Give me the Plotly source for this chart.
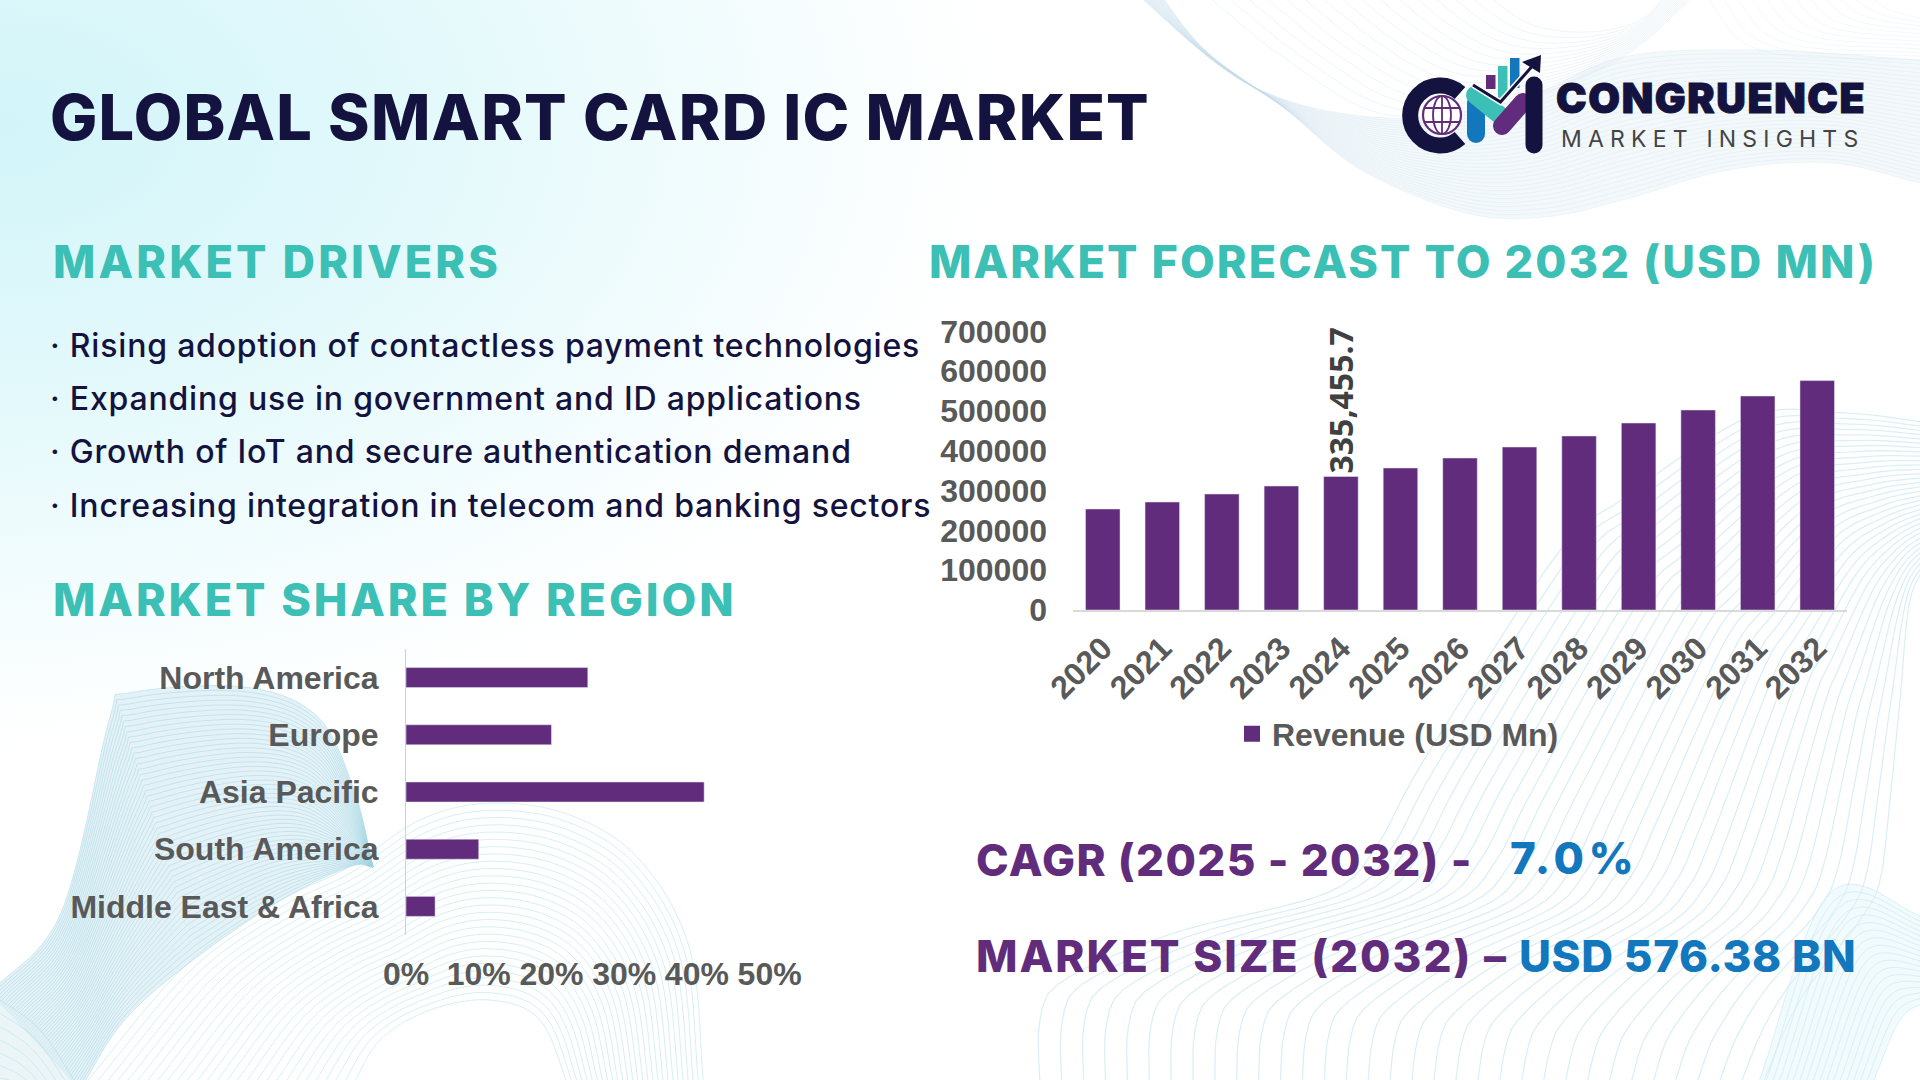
import base64

import numpy as np
import plotly.graph_objects as go

# chart values
years = ["2020", "2021", "2022", "2023", "2024", "2025", "2026",
         "2027", "2028", "2029", "2030", "2031", "2032"]
revenue = [253800, 271300, 291400, 311500, 335455.7, 356800, 381900,
           409500, 437200, 469800, 502500, 537700, 576380]
revenue_labels = ["", "", "", "", "335,455.7", "", "", "", "", "", "", "", ""]
revenue_ticks = [0, 100000, 200000, 300000, 400000, 500000, 600000, 700000]

regions = ["North America", "Europe", "Asia Pacific", "South America", "Middle East & Africa"]
shares = [25, 20, 41, 10, 4]
share_ticks = [0, 10, 20, 30, 40, 50]
share_tick_labels = ["0%", "10%", "20%", "30%", "40%", "50%"]

drivers = [
    "Rising adoption of contactless payment technologies",
    "Expanding use in government and ID applications",
    "Growth of IoT and secure authentication demand",
    "Increasing integration in telecom and banking sectors",
]

W, H = 1920, 1080
NAVY = "#14123E"
TEAL = "#3CBFB4"
PURPLE = "#612C7B"
BLUE = "#1277BC"
GREY = "#595959"
TICK_FONT = dict(family="Liberation Sans", size=32, color=GREY, weight=700)
HEAD_FONT = "Inter"


def smooth(pts, n=90):
    """Catmull-Rom through the key points, resampled to n points."""
    p = np.array(pts, dtype=float)
    p = np.vstack([2 * p[0] - p[1], p, 2 * p[-1] - p[-2]])
    out = []
    for i in range(1, len(p) - 2):
        t = np.linspace(0, 1, 12, endpoint=False)[:, None]
        out.append(0.5 * (2 * p[i] + (p[i + 1] - p[i - 1]) * t
                          + (2 * p[i - 1] - 5 * p[i] + 4 * p[i + 1] - p[i + 2]) * t ** 2
                          + (3 * p[i] - p[i - 1] - 3 * p[i + 1] + p[i + 2]) * t ** 3))
    out.append(p[-2][None, :])
    c = np.vstack(out)
    s = np.r_[0, np.cumsum(np.hypot(*np.diff(c, axis=0).T))]
    u = np.linspace(0, s[-1], n)
    return np.c_[np.interp(u, s, c[:, 0]), np.interp(u, s, c[:, 1])]


def path_d(c):
    return "M" + " L".join(f"{x:.1f} {y:.1f}" for x, y in c)


def ribbon(a, b, count, color, opacity, width=1.0, fill=None, fill_opacity=0):
    """Bundle of lines blended between two edge curves."""
    a, b = smooth(a), smooth(b)
    parts = []
    if fill:
        ring = np.vstack([a, b[::-1]])
        parts.append(f'<path d="{path_d(ring)}Z" fill="{fill}" fill-opacity="{fill_opacity}"/>')
    for t in np.linspace(0, 1, count):
        parts.append(f'<path d="{path_d(a * (1 - t) + b * t)}" fill="none" stroke="{color}" '
                     f'stroke-opacity="{opacity}" stroke-width="{width}"/>')
    return "".join(parts)


def background_svg():
    art = [f'<svg xmlns="http://www.w3.org/2000/svg" width="{W}" height="{H}" viewBox="0 0 {W} {H}">',
           '<defs><radialGradient id="g" gradientUnits="userSpaceOnUse" cx="0" cy="120" r="1000" '
           'gradientTransform="translate(0 50) scale(1 .62)">'
           '<stop offset="0" stop-color="#D2F5F9"/><stop offset=".45" stop-color="#E4F9FB"/>'
           '<stop offset=".8" stop-color="#F6FDFE"/><stop offset="1" stop-color="#FFFFFF"/>'
           '</radialGradient></defs>',
           f'<rect width="{W}" height="{H}" fill="#FFFFFF"/><rect width="{W}" height="{H}" fill="url(#g)"/>']

    # top right
    ridge = [(1120, -20), (1250, 85), (1388, 118), (1518, 100), (1623, 57), (1760, 50), (1920, 60)]
    lower = [(1150, -20), (1205, 50), (1283, 107), (1361, 170), (1466, 213), (1545, 217),
             (1623, 200), (1728, 170), (1832, 163), (1920, 183)]
    art.append(ribbon(ridge, lower, 30, "#C6DBE9", 0.22, 1, "#EFF5FA", 0.75))
    art.append(ribbon([(1200, -10), (1290, 62), (1388, 115), (1518, 100), (1623, 57), (1701, -10)],
                      [(1480, -10), (1530, 24), (1590, 32), (1640, 20), (1670, -10)],
                      16, "#CBDDEA", 0.3, 1))
    art.append(ribbon([(1701, -10), (1760, 50), (1920, 60)], [(1860, -10), (1890, 10), (1930, 20)],
                      12, "#CBDDEA", 0.22, 1))

    # bottom right
    outer = [(1040, 1090), (1040, 1020), (1064, 980), (1174, 933), (1327, 893), (1376, 847),
             (1424, 760), (1558, 553), (1621, 500), (1749, 417), (1845, 413), (1930, 423)]
    inner = [(1760, 1090), (1800, 1000), (1860, 920), (1880, 880), (1890, 800),
             (1900, 700), (1910, 600), (1930, 560)]
    art.append(ribbon(outer, inner, 34, "#BFE3EF", 0.6, 1.2))
    art.append(ribbon([(1756, 1090), (1830, 893), (1930, 920)], [(1870, 1090), (1900, 1020), (1930, 1000)],
                      18, "#BFE6F0", 0.5, 1, "#E4F5FA", 0.5))

    # bottom left
    r1 = [(-10, 993), (61, 913), (110, 717), (129, 693), (245, 687), (318, 717), (355, 793), (373, 867)]
    r2 = [(80, 1090), (122, 1023), (184, 967), (276, 903), (349, 867), (373, 867)]
    art.append(ribbon(r1, r2, 50, "#9CD2E0", 0.45, 1, "#D8EDF3", 0.7))
    art.append(ribbon([(80, 1090), (184, 967), (276, 903), (349, 867), (420, 820), (490, 803),
                       (570, 815), (640, 860), (690, 950), (704, 1090)],
                      [(350, 1090), (380, 1040), (430, 1010), (490, 1000), (540, 1020), (570, 1090)],
                      28, "#B5E2E9", 0.55, 1))
    art.append(ribbon([(-10, 993), (40, 1030), (80, 1090)], [(-10, 1090), (10, 1088), (20, 1090)],
                      8, "#A6D6E2", 0.4, 1, "#DDEFF4", 0.6))

    # logo mark
    art.append(
        f'<path d="M1460 93 A30 30 0 1 0 1460 138" fill="none" stroke="{NAVY}" stroke-width="16"/>'
        f'<circle cx="1442" cy="115" r="19" fill="#FFFFFF" stroke="{PURPLE}" stroke-width="2.2"/>'
        f'<ellipse cx="1442" cy="115" rx="9" ry="19" fill="none" stroke="{PURPLE}" stroke-width="1.8"/>'
        f'<path d="M1442 96 V134 M1424 108 H1460 M1424 122 H1460" stroke="{PURPLE}" stroke-width="1.8"/>'
        f'<path d="M1476 103 V134" stroke="{BLUE}" stroke-width="18" stroke-linecap="round"/>'
        f'<path d="M1475 95 L1502 117" stroke="{TEAL}" stroke-width="18" stroke-linecap="round"/>'
        f'<path d="M1502 126 L1523 102" stroke="{PURPLE}" stroke-width="18" stroke-linecap="round"/>'
        f'<path d="M1534 85 V145" stroke="{NAVY}" stroke-width="17" stroke-linecap="round"/>'
        f'<rect x="1486" y="75" width="9.5" height="14" fill="{PURPLE}"/>'
        f'<rect x="1498" y="66" width="9.5" height="32" fill="{TEAL}"/>'
        f'<rect x="1510" y="58" width="9.5" height="30" fill="{BLUE}"/>'
        f'<path d="M1473 85 L1500.5 102 L1531.5 67" fill="none" stroke="#FFFFFF" stroke-width="6"/>'
        f'<path d="M1473 85 L1500.5 102 L1531.5 67" fill="none" stroke="{NAVY}" stroke-width="3"/>'
        f'<path d="M1522 62 L1541 55 L1540 73 Z" fill="{NAVY}"/>'
    )
    art.append("</svg>")
    return "data:image/svg+xml;base64," + base64.b64encode("".join(art).encode()).decode()


def label(x, y, text, size, color, weight=700, family=HEAD_FONT, spacing=0, extra=""):
    if spacing or extra:
        text = f'<span style="letter-spacing:{spacing}px;{extra}">{text}</span>'
    return dict(xref="paper", yref="paper", x=x / W, y=1 - y / H, text=text, showarrow=False,
                xanchor="left", yanchor="middle", borderpad=0, borderwidth=0,
                font=dict(family=family, size=size, color=color, weight=weight))


notes = [
    label(50, 117, "GLOBAL SMART CARD IC MARKET", 63, NAVY, 800, spacing=1.2),
    label(53, 261, "MARKET DRIVERS", 45, TEAL, 800, spacing=3.1),
    label(929, 261, "MARKET FORECAST TO 2032 (USD MN)", 45, TEAL, 800, spacing=2.1),
    label(53, 599, "MARKET SHARE BY REGION", 45, TEAL, 800, spacing=2.9),
    label(976, 860, "CAGR (2025 - 2032) -", 44, PURPLE, 800, spacing=1.35),
    label(1510, 858, "7.0%", 44, BLUE, 800, spacing=4.5),
    label(976, 956, "MARKET SIZE (2032) –", 44, PURPLE, 800, spacing=2),
    label(1519, 956, "USD 576.38 BN", 44, BLUE, 800, spacing=0.6),
    label(1556, 98, "CONGRUENCE", 41, NAVY, 900, spacing=1.6, extra=f"stroke:{NAVY};stroke-width:1px"),
    label(1561, 139, "MARKET INSIGHTS", 23, "#444444", 400, spacing=6.2),
]
for i, driver in enumerate(drivers):
    notes.append(label(50, 345 + i * 53.4, "· " + driver, 32, NAVY, 500, spacing=0.8))

fig = go.Figure()
fig.add_trace(go.Bar(x=years, y=revenue, name="Revenue (USD Mn)", marker_color=PURPLE,
                     text=revenue_labels, textposition="outside", textangle=-90,
                     constraintext="none", cliponaxis=False, width=0.58, showlegend=False,
                     textfont=dict(family="Open Sans", size=32, color="#404040", weight=700),
                     xaxis="x", yaxis="y"))
fig.add_trace(go.Bar(y=regions, x=shares, orientation="h", marker_color=PURPLE, width=0.35,
                     showlegend=False, xaxis="x2", yaxis="y2"))
# bar legend swatches are a fixed small size, this one carries the legend entry
fig.add_trace(go.Scatter(x=[None], y=[None], mode="markers", name="Revenue (USD Mn)",
                         marker=dict(symbol="square", size=16, color=PURPLE),
                         xaxis="x", yaxis="y"))

fig.update_layout(
    width=W, height=H,
    margin=dict(l=0, r=0, t=0, b=0, autoexpand=False),
    paper_bgcolor="#FFFFFF",
    plot_bgcolor="rgba(0,0,0,0)",
    showlegend=True,
    legend=dict(x=1232 / W, y=1 - 734 / H, xanchor="left", yanchor="middle",
                bgcolor="rgba(0,0,0,0)", font=TICK_FONT, itemwidth=30),
    xaxis=dict(domain=[1073 / W, 1847 / W], type="category", tickangle=-45, tickfont=TICK_FONT,
               showgrid=False, showline=True, linecolor="#D9D9D9", linewidth=1.5, ticks="",
               ticklabelstandoff=5, anchor="y", zeroline=False),
    yaxis=dict(domain=[1 - 610 / H, 1 - 331.4 / H], range=[0, 700000], tickvals=revenue_ticks,
               tickformat="d", tickfont=TICK_FONT, showgrid=False, zeroline=False, showline=False,
               ticklabelstandoff=25, anchor="x"),
    xaxis2=dict(domain=[406 / W, 769.6 / W], range=[0, 50], tickvals=share_ticks,
                ticktext=share_tick_labels, tickfont=TICK_FONT, showgrid=False, zeroline=False,
                showline=False, ticklabelstandoff=17, anchor="y2"),
    yaxis2=dict(domain=[1 - 935 / H, 1 - 649 / H], autorange="reversed", type="category",
                tickfont=TICK_FONT, showgrid=False, zeroline=False, showline=True,
                linecolor="#D0D0D0", linewidth=1, ticklabelstandoff=20, anchor="x2"),
    images=[dict(source=background_svg(), xref="paper", yref="paper", x=0, y=1, sizex=1, sizey=1,
                 xanchor="left", yanchor="top", sizing="stretch", layer="below")],
    annotations=notes,
)

fig.write_html("out.html", config={"displayModeBar": False},
               post_script="document.body.style.margin='0';document.body.style.overflow='hidden';")
